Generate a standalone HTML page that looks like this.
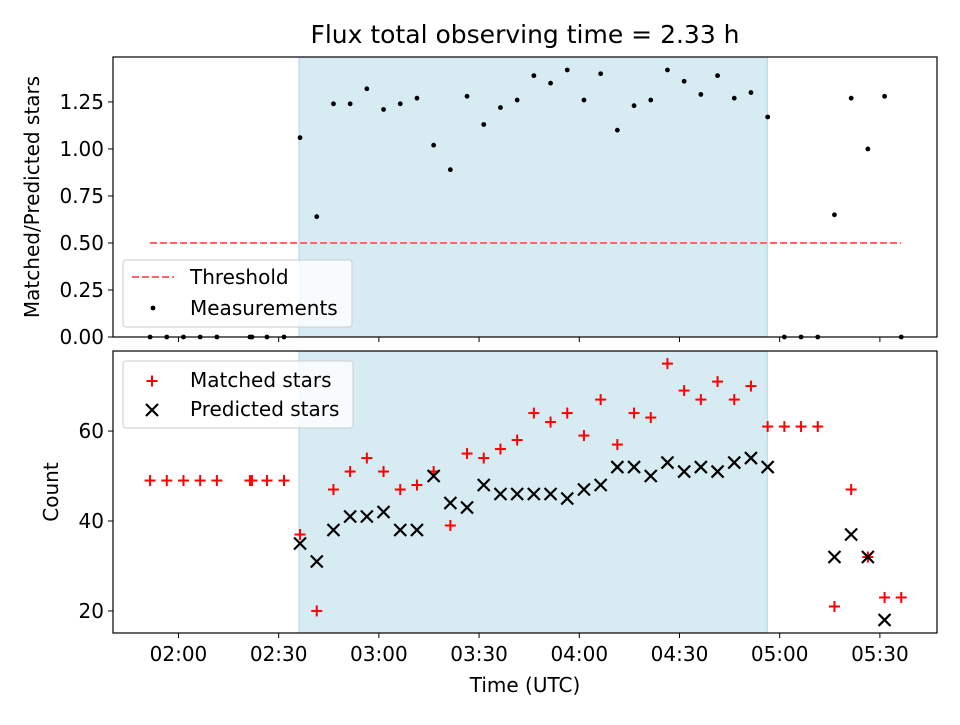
<!DOCTYPE html>
<html><head><meta charset="utf-8"><style>
body{margin:0;background:#fff}
svg text{font-family:"DejaVu Sans","Liberation Sans",sans-serif;fill:#000}
</style></head><body>
<svg id="fig" width="960" height="720" xmlns="http://www.w3.org/2000/svg"></svg>
<script>
const times=[111.5,116.5,121.5,126.5,131.5,141.4,142,146.5,151.6,156.4,161.4,166.4,171.4,176.4,181.4,186.4,191.4,196.4,201.4,206.4,211.4,216.4,221.4,226.4,231.4,236.4,241.4,246.4,251.4,256.4,261.4,266.4,271.4,276.4,281.4,286.4,291.4,296.4,301.4,306.4,311.4,316.4,321.4,326.4,331.4,336.4];
const ratio=[0,0,0,0,0,0,0,0,0,1.06,0.64,1.24,1.24,1.32,1.21,1.24,1.27,1.02,0.89,1.28,1.13,1.22,1.26,1.39,1.35,1.42,1.26,1.40,1.10,1.23,1.26,1.42,1.36,1.29,1.39,1.27,1.30,1.17,0,0,0,0.65,1.27,1.0,1.28,0];
const matched=[49,49,49,49,49,49,49,49,49,37,20,47,51,54,51,47,48,51,39,55,54,56,58,64,62,64,59,67,57,64,63,75,69,67,71,67,70,61,61,61,61,21,47,32,23,23];
const predicted=[null,null,null,null,null,null,null,null,null,35,31,38,41,41,42,38,38,50,44,43,48,46,46,46,46,45,47,48,52,52,50,53,51,52,51,53,54,52,null,null,null,32,37,32,18,null];
const xTickLabels=["02:00","02:30","03:00","03:30","04:00","04:30","05:00","05:30"];
const xTickMins=[120,150,180,210,240,270,300,330];
const topTicks=[0,0.25,0.5,0.75,1.0,1.25];
const botTicks=[20,40,60];
const shade=[156.1,296.3];
const threshold=0.5, thrRange=[111.5,336.4];

const NS="http://www.w3.org/2000/svg";
const svg=document.getElementById('fig');
function el(t,a,p){const e=document.createElementNS(NS,t);for(const k in a)e.setAttribute(k,a[k]);(p||svg).appendChild(e);return e;}
const L=113,R=937,T1=57,B1=337,T2=351,B2=633;
const xs=m=>L+(m-100.4)*(R-L)/(347.1-100.4);
const y1=v=>B1-v*(B1-T1)/1.489;
const y2=v=>B2-(v-15.1)*(B2-T2)/(77.8-15.1);

let t=el('text',{x:525,y:43,'text-anchor':'middle','font-size':'25'});t.textContent='Flux total observing time = 2.33 h';


function panel(T,B,yf,ticks,fmt,name){
  const g=el('g',{});
  const s=el('rect',{x:xs(shade[0]),y:T,width:xs(shade[1])-xs(shade[0]),height:B-T,fill:'#add8e6','fill-opacity':0.5,stroke:'#add8e6'},g);
  
  ticks.forEach(v=>{const y=yf(v);el('line',{x1:L-5,x2:L,y1:y,y2:y,stroke:'#000'},g);
    const tx=el('text',{x:L-9,y:y+7,'text-anchor':'end','font-size':'20'},g);tx.textContent=fmt(v);
    });
  xTickMins.forEach(m=>{el('line',{x1:xs(m),x2:xs(m),y1:B,y2:B+5,stroke:'#000'},g);});
  return g;
}
const g1=panel(T1,B1,y1,topTicks,v=>v.toFixed(2),'top-panel');
const g2=panel(T2,B2,y2,botTicks,v=>String(v),'bottom-panel');
xTickMins.forEach((m,i)=>{const tx=el('text',{x:xs(m),y:B2+28,'text-anchor':'middle','font-size':'20'});tx.textContent=xTickLabels[i];
  });

const th=el('line',{x1:xs(thrRange[0]),x2:xs(thrRange[1]),y1:y1(threshold),y2:y1(threshold),stroke:'#ff6666','stroke-width':2,'stroke-dasharray':'7,3'},g1);

times.forEach((m,i)=>{const c=el('circle',{cx:xs(m),cy:y1(ratio[i]),r:2.4,fill:'#000'},g1);
  });
function plus(x,y,p){const g=el('g',{stroke:'#f00','stroke-width':2},p);el('line',{x1:x-5.5,x2:x+5.5,y1:y,y2:y},g);el('line',{x1:x,x2:x,y1:y-5.5,y2:y+5.5},g);return g;}
function cross(x,y,p){const g=el('g',{stroke:'#000','stroke-width':2.2},p);el('line',{x1:x-6,x2:x+6,y1:y-6,y2:y+6},g);el('line',{x1:x-6,x2:x+6,y1:y+6,y2:y-6},g);return g;}
times.forEach((m,i)=>{const p=plus(xs(m),y2(matched[i]),g2);
  });
times.forEach((m,i)=>{if(predicted[i]==null)return;const c=cross(xs(m),y2(predicted[i]),g2);
  });

[[T1,B1],[T2,B2]].forEach(([T,B])=>el('rect',{x:L,y:T,width:R-L,height:B-T,fill:'none',stroke:'#000','stroke-width':1.2}));

const lg1=el('g',{});
el('rect',{x:123,y:260,width:229,height:67,rx:3,fill:'#fff','fill-opacity':0.8,stroke:'#ccc'},lg1);
el('line',{x1:132,x2:174,y1:277,y2:277,stroke:'#ff6666','stroke-width':2,'stroke-dasharray':'7,3'},lg1);
let a=el('text',{x:190,y:284,'font-size':'20'},lg1);a.textContent='Threshold';
el('circle',{cx:153,cy:308,r:2.4,fill:'#000'},lg1);
a=el('text',{x:190,y:315,'font-size':'20'},lg1);a.textContent='Measurements';
const lg2=el('g',{});
el('rect',{x:123,y:361,width:230,height:67,rx:3,fill:'#fff','fill-opacity':0.8,stroke:'#ccc'},lg2);
plus(152,381,lg2);a=el('text',{x:190,y:387,'font-size':'20'},lg2);a.textContent='Matched stars';
cross(152,410,lg2);a=el('text',{x:190,y:416,'font-size':'20'},lg2);a.textContent='Predicted stars';

a=el('text',{x:525,y:692,'text-anchor':'middle','font-size':'20'});a.textContent='Time (UTC)';

a=el('text',{x:0,y:0,'text-anchor':'middle','font-size':'20',transform:'translate(39,197) rotate(-90)'});a.textContent='Matched/Predicted stars';

a=el('text',{x:0,y:0,'text-anchor':'middle','font-size':'20',transform:'translate(58,492) rotate(-90)'});a.textContent='Count';

</script>
</body></html>
